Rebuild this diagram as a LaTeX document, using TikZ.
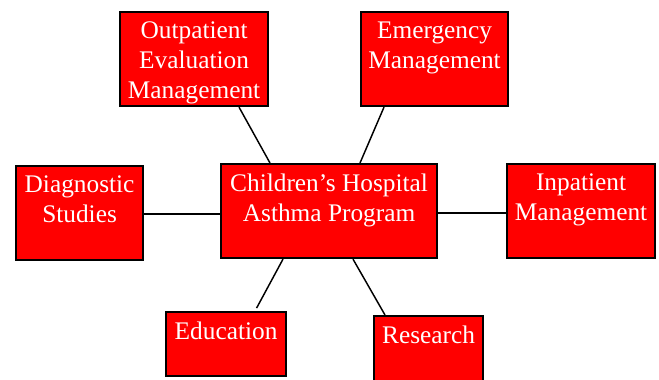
\documentclass[tikz,border=0pt]{standalone}
\usepackage{fontspec}
\setmainfont{Liberation Serif}
\usetikzlibrary{calc}

% one pixel of the layout grid
\newlength{\pxlen}
\setlength{\pxlen}{0.75pt}

% box text: width, height, lines (set from the top of the box)
\newcommand{\boxtext}[3]{%
  \parbox[c][#2\pxlen][t]{#1\pxlen}{\centering\vspace*{10\pxlen}#3}}

\begin{document}
\begin{tikzpicture}[
  x=0.75pt, y=-0.75pt,
  unit/.style={draw=black, line width=1.6pt, fill=red, text=white,
    inner sep=0pt, anchor=north west,
    font=\fontsize{19}{22.5}\selectfont},
  link/.style={draw=black, line width=1.1pt}
]

\clip (0,0) rectangle (659,379);

% ------------------- Program in the middle ------------------- %
\node[unit] (prog) at (220,163) {\boxtext{216}{94}{Children's Hospital\\Asthma Program}};

% ------------------- Units around it ------------------- %
\node[unit] (outpt)  at (119,11)  {\boxtext{148}{94}{Outpatient\\Evaluation\\Management}};
\node[unit] (emerg)  at (360,11)  {\boxtext{147}{94}{Emergency\\Management}};
\node[unit] (diag)   at (15,165)  {\boxtext{127}{94}{Diagnostic\\Studies}};
\node[unit] (inpt)   at (506,163) {\boxtext{148}{94}{Inpatient\\Management}};
\node[unit] (edu)    at (165,311) {\boxtext{120}{64}{Education}};
\node[unit] (resrch) at (373,315) {\boxtext{109}{96}{Research}};

% Spokes from the program box
\draw[link] ($(prog.north west)+(50,0)$)  -- ($(outpt.south west)+(120,0)$);
\draw[link] ($(prog.north west)+(140,0)$) -- ($(emerg.south west)+(24,0)$);
\draw[link] ($(diag.east)+(0,1)$) -- ($(diag.east -| prog.west)+(0,1)$);
\draw[link] ($(prog.east)+(0,2)$) -- ($(prog.east -| inpt.west)+(0,2)$);
\draw[link, shorten >=2.5pt] ($(prog.south west)+(63,0)$) -- ($(edu.north west)+(90,0)$);
\draw[link] ($(prog.south west)+(133,0)$) -- ($(resrch.north west)+(12,0)$);

\end{tikzpicture}
\end{document}
